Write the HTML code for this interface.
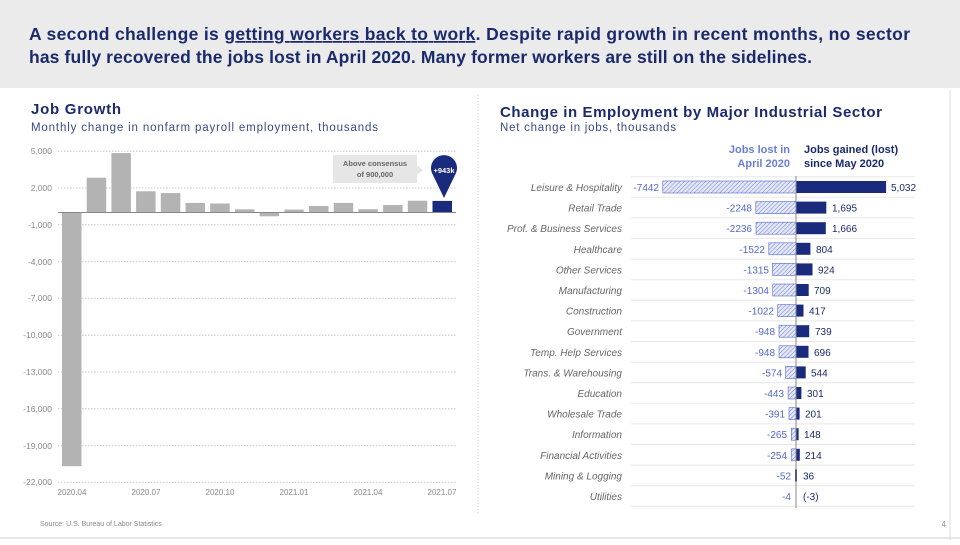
<!DOCTYPE html>
<html><head><meta charset="utf-8"><style>
body{margin:0;width:960px;height:540px;background:#fff;overflow:hidden;font-family:"Liberation Sans",sans-serif}
</style></head><body>
<svg width="960" height="540" xmlns="http://www.w3.org/2000/svg" font-family="Liberation Sans, sans-serif">
<defs>
<pattern id="hp" width="3" height="3" patternUnits="userSpaceOnUse" patternTransform="rotate(45)">
<rect width="3" height="3" fill="#e3e7f7"/><line x1="0" y1="0" x2="0" y2="3" stroke="#5468c8" stroke-width="0.8"/>
</pattern>
</defs>
<rect x="0" y="0" width="960" height="88" fill="#ebebeb"/>
<text x="29" y="40" font-size="17.5" font-weight="bold" fill="#1a2a6c" textLength="881" lengthAdjust="spacing">A second challenge is <tspan text-decoration="underline">getting workers back to work</tspan>. Despite rapid growth in recent months, no sector</text>
<text x="29" y="63" font-size="17.5" font-weight="bold" fill="#1a2a6c" textLength="783" lengthAdjust="spacing">has fully recovered the jobs lost in April 2020. Many former workers are still on the sidelines.</text>
<line x1="478" y1="95" x2="478" y2="515" stroke="#ccc" stroke-dasharray="1,2"/>
<line x1="950" y1="90" x2="950" y2="540" stroke="#ddd"/>
<line x1="0" y1="538" x2="960" y2="538" stroke="#ccc"/>

<!-- Left chart -->
<text x="31" y="114" font-size="15" font-weight="bold" fill="#1a2a6c" textLength="90" lengthAdjust="spacing">Job Growth</text>
<text x="31" y="131" font-size="11.5" fill="#3a4a8a" textLength="347" lengthAdjust="spacing">Monthly change in nonfarm payroll employment, thousands</text>
<g stroke="#ccc" stroke-dasharray="1.5,1.5">
<line x1="58" y1="151.2" x2="456" y2="151.2"/><line x1="58" y1="188" x2="456" y2="188"/><line x1="58" y1="224.8" x2="456" y2="224.8"/><line x1="58" y1="261.6" x2="456" y2="261.6"/><line x1="58" y1="298.4" x2="456" y2="298.4"/><line x1="58" y1="335.2" x2="456" y2="335.2"/><line x1="58" y1="372" x2="456" y2="372"/><line x1="58" y1="408.8" x2="456" y2="408.8"/><line x1="58" y1="445.6" x2="456" y2="445.6"/><line x1="58" y1="482.4" x2="456" y2="482.4"/>
</g>
<g font-size="8.5" fill="#888" text-anchor="end">
<text x="52" y="154">5,000</text><text x="52" y="191">2,000</text><text x="52" y="228">-1,000</text><text x="52" y="265">-4,000</text><text x="52" y="301">-7,000</text><text x="52" y="338">-10,000</text><text x="52" y="375">-13,000</text><text x="52" y="412">-16,000</text><text x="52" y="449">-19,000</text><text x="52" y="485">-22,000</text>
</g>
<g fill="#b3b3b3">
<rect x="62" y="212.5" width="19.5" height="253.7"/>
<rect x="86.7" y="177.7" width="19.5" height="34.8"/>
<rect x="111.4" y="153.1" width="19.5" height="59.4"/>
<rect x="136.1" y="191.3" width="19.5" height="21.2"/>
<rect x="160.8" y="193.1" width="19.5" height="19.4"/>
<rect x="185.5" y="202.9" width="19.5" height="9.6"/>
<rect x="210.2" y="203.5" width="19.5" height="9"/>
<rect x="234.9" y="209.3" width="19.5" height="3.2"/>
<rect x="259.6" y="212.5" width="19.5" height="3.8"/>
<rect x="284.3" y="209.6" width="19.5" height="2.9"/>
<rect x="309" y="205.9" width="19.5" height="6.6"/>
<rect x="333.7" y="202.9" width="19.5" height="9.6"/>
<rect x="358.4" y="209.2" width="19.5" height="3.3"/>
<rect x="383.1" y="205" width="19.5" height="7.5"/>
<rect x="407.8" y="200.7" width="19.5" height="11.8"/>
</g>
<rect x="432.5" y="200.9" width="19.5" height="11.6" fill="#1a2a7c"/>
<line x1="58" y1="212.5" x2="456" y2="212.5" stroke="#888" stroke-width="1"/>
<path d="M433,175 A13,13 0 1,1 455,175 L444,198 Z" fill="#1a2a7c"/>
<text x="444" y="173" font-size="7.5" font-weight="bold" fill="#fff" text-anchor="middle">+943k</text>
<path d="M333,155 H417 V165 L423,170 L417,175 V183 H333 Z" fill="#e6e6e6"/>
<text x="375" y="166" font-size="7.5" font-weight="bold" fill="#666" text-anchor="middle">Above consensus</text>
<text x="375" y="177" font-size="7.5" font-weight="bold" fill="#666" text-anchor="middle">of 900,000</text>
<g font-size="8" fill="#888" text-anchor="middle">
<text x="72" y="495">2020.04</text><text x="146" y="495">2020.07</text><text x="220" y="495">2020.10</text><text x="294" y="495">2021.01</text><text x="368" y="495">2021.04</text><text x="442" y="495">2021.07</text>
</g>
<text x="40" y="526" font-size="7" fill="#888">Source: U.S. Bureau of Labor Statistics</text>
<text x="946" y="527" font-size="8" fill="#999" text-anchor="end">4</text>

<!-- Right chart -->
<text x="500" y="117" font-size="15" font-weight="bold" fill="#1a2a6c" textLength="382" lengthAdjust="spacing">Change in Employment by Major Industrial Sector</text>
<text x="500" y="131" font-size="11.5" fill="#3a4a8a" textLength="176" lengthAdjust="spacing">Net change in jobs, thousands</text>
<text x="790" y="153" font-size="11" font-weight="bold" fill="#6a7ed8" text-anchor="end">Jobs lost in</text>
<text x="790" y="167" font-size="11" font-weight="bold" fill="#6a7ed8" text-anchor="end">April 2020</text>
<text x="804" y="153" font-size="11" font-weight="bold" fill="#1a2a6c">Jobs gained (lost)</text>
<text x="804" y="167" font-size="11" font-weight="bold" fill="#1a2a6c">since May 2020</text>
<g stroke="#e8e8e8" stroke-width="1">
<line x1="631" y1="176.7" x2="915" y2="176.7"/><line x1="631" y1="197.3" x2="915" y2="197.3"/><line x1="631" y1="217.9" x2="915" y2="217.9"/><line x1="631" y1="238.5" x2="915" y2="238.5"/><line x1="631" y1="259.1" x2="915" y2="259.1"/><line x1="631" y1="279.7" x2="915" y2="279.7"/><line x1="631" y1="300.3" x2="915" y2="300.3"/><line x1="631" y1="320.9" x2="915" y2="320.9"/><line x1="631" y1="341.5" x2="915" y2="341.5"/><line x1="631" y1="362.1" x2="915" y2="362.1"/><line x1="631" y1="382.7" x2="915" y2="382.7"/><line x1="631" y1="403.3" x2="915" y2="403.3"/><line x1="631" y1="423.9" x2="915" y2="423.9"/><line x1="631" y1="444.5" x2="915" y2="444.5"/><line x1="631" y1="465.1" x2="915" y2="465.1"/><line x1="631" y1="485.7" x2="915" y2="485.7"/><line x1="631" y1="506.3" x2="915" y2="506.3"/>
</g>
<g font-size="10" font-style="italic" fill="#666" text-anchor="end">
<text x="622" y="191">Leisure &amp; Hospitality</text><text x="622" y="211.6">Retail Trade</text><text x="622" y="232.2">Prof. &amp; Business Services</text><text x="622" y="252.8">Healthcare</text><text x="622" y="273.4">Other Services</text><text x="622" y="294">Manufacturing</text><text x="622" y="314.6">Construction</text><text x="622" y="335.2">Government</text><text x="622" y="355.8">Temp. Help Services</text><text x="622" y="376.4">Trans. &amp; Warehousing</text><text x="622" y="397">Education</text><text x="622" y="417.6">Wholesale Trade</text><text x="622" y="438.2">Information</text><text x="622" y="458.8">Financial Activities</text><text x="622" y="479.4">Mining &amp; Logging</text><text x="622" y="500">Utilities</text>
</g>
<g fill="url(#hp)" stroke="#5468c8" stroke-width="0.6">
<rect x="662.8" y="181" width="133.2" height="12"/><rect x="755.8" y="201.6" width="40.2" height="12"/><rect x="756" y="222.2" width="40" height="12"/><rect x="768.8" y="242.8" width="27.2" height="12"/><rect x="772.5" y="263.4" width="23.5" height="12"/><rect x="772.7" y="284" width="23.3" height="12"/><rect x="777.7" y="304.6" width="18.3" height="12"/><rect x="779" y="325.2" width="17" height="12"/><rect x="779" y="345.8" width="17" height="12"/><rect x="785.7" y="366.4" width="10.3" height="12"/><rect x="788.1" y="387" width="7.9" height="12"/><rect x="789" y="407.6" width="7" height="12"/><rect x="791.3" y="428.2" width="4.7" height="12"/><rect x="791.5" y="448.8" width="4.5" height="12"/>
</g>
<g fill="#1a2a7c">
<rect x="796" y="181" width="90.1" height="12"/><rect x="796" y="201.6" width="30.3" height="12"/><rect x="796" y="222.2" width="29.8" height="12"/><rect x="796" y="242.8" width="14.4" height="12"/><rect x="796" y="263.4" width="16.5" height="12"/><rect x="796" y="284" width="12.7" height="12"/><rect x="796" y="304.6" width="7.5" height="12"/><rect x="796" y="325.2" width="13.2" height="12"/><rect x="796" y="345.8" width="12.5" height="12"/><rect x="796" y="366.4" width="9.7" height="12"/><rect x="796" y="387" width="5.4" height="12"/><rect x="796" y="407.6" width="3.6" height="12"/><rect x="796" y="428.2" width="2.6" height="12"/><rect x="796" y="448.8" width="3.8" height="12"/><rect x="795" y="469.4" width="2" height="12"/>
</g>
<line x1="796" y1="176" x2="796" y2="508" stroke="#888" stroke-width="1"/>
<g font-size="10" fill="#5468c8" text-anchor="end">
<text x="659" y="191">-7442</text><text x="752" y="211.6">-2248</text><text x="752" y="232.2">-2236</text><text x="765" y="252.8">-1522</text><text x="769" y="273.4">-1315</text><text x="769" y="294">-1304</text><text x="774" y="314.6">-1022</text><text x="775" y="335.2">-948</text><text x="775" y="355.8">-948</text><text x="782" y="376.4">-574</text><text x="784" y="397">-443</text><text x="785" y="417.6">-391</text><text x="787" y="438.2">-265</text><text x="787" y="458.8">-254</text><text x="791" y="479.4">-52</text><text x="791" y="500">-4</text>
</g>
<g font-size="10" fill="#1a2a6c">
<text x="891" y="191">5,032</text><text x="832" y="211.6">1,695</text><text x="832" y="232.2">1,666</text><text x="816" y="252.8">804</text><text x="818" y="273.4">924</text><text x="814" y="294">709</text><text x="809" y="314.6">417</text><text x="815" y="335.2">739</text><text x="814" y="355.8">696</text><text x="811" y="376.4">544</text><text x="807" y="397">301</text><text x="805" y="417.6">201</text><text x="804" y="438.2">148</text><text x="805" y="458.8">214</text><text x="803" y="479.4">36</text><text x="803" y="500">(-3)</text>
</g>
</svg>
</body></html>
